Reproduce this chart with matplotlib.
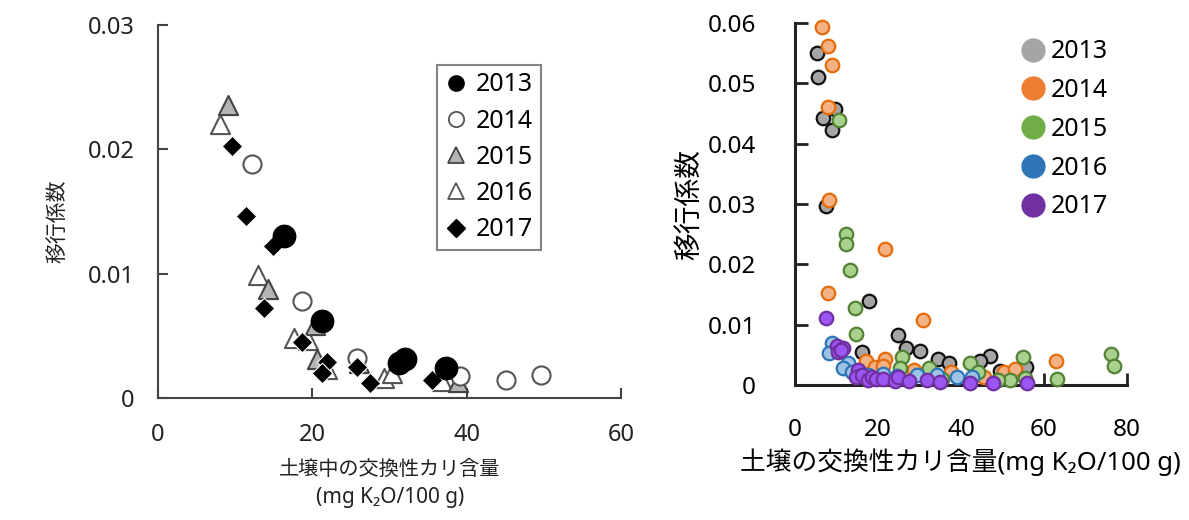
import numpy as np
import matplotlib
matplotlib.use('Agg')
import matplotlib.pyplot as plt
from matplotlib.lines import Line2D

plt.rcParams['font.family'] = ['Noto Sans', 'Noto Sans CJK JP', 'DejaVu Sans']

# ---- left panel data (交換性カリ vs 移行係数) ----
years = ['2013', '2014', '2015', '2016', '2017']

l13_x = [16.3, 21.3, 31.2, 32.0, 37.3]
l13_y = [0.0130, 0.0062, 0.0028, 0.0031, 0.0024]
l14_x = [12.2, 18.7, 25.8, 39.1, 45.1, 49.6]
l14_y = [0.0188, 0.0078, 0.0032, 0.0018, 0.00145, 0.00185]
l15_x = [9.1, 14.3, 20.3, 20.6, 26.0, 38.9]
l15_y = [0.0236, 0.0088, 0.0059, 0.0031, 0.0028, 0.0013]
l16_x = [8.05, 12.9, 17.6, 19.5, 21.9, 29.3, 30.3, 36.8]
l16_y = [0.0220, 0.0099, 0.0048, 0.0047, 0.0023, 0.0016, 0.0020, 0.0014]
l17_x = [9.6, 11.4, 14.9, 13.7, 18.7, 21.9, 21.3, 25.8, 27.5, 35.5]
l17_y = [0.0203, 0.0146, 0.0122, 0.0072, 0.0045, 0.0029, 0.0020, 0.0025, 0.0012, 0.00145]

left_xticks = [0, 20, 40, 60]
left_yticks = [0, 0.01, 0.02, 0.03]
left_ylabels = ['0', '0.01', '0.02', '0.03']

# ---- right panel data ----
r13_x = [5.2, 5.6, 9.6, 6.8, 8.8, 7.5, 17.9, 24.9, 16.2, 26.7, 30.0, 34.5, 37.0, 46.9, 44.6, 55.7, 49.4]
r13_y = [0.0550, 0.0511, 0.0458, 0.0442, 0.0423, 0.0297, 0.0139, 0.0083, 0.0055, 0.0061, 0.0057,
         0.0043, 0.0036, 0.0048, 0.0040, 0.0030, 0.0023]
r14_x = [6.4, 8.0, 8.8, 8.0, 8.3, 8.0, 21.7, 30.8, 62.9, 17.1, 21.7, 19.3, 21.3, 28.7, 37.5, 50.4,
         53.0, 45.6]
r14_y = [0.0594, 0.0562, 0.0531, 0.0460, 0.0307, 0.0152, 0.0225, 0.0108, 0.0039, 0.0040, 0.0043,
         0.0030, 0.0032, 0.0025, 0.0022, 0.0021, 0.0026, 0.0014]
r15_x = [10.7, 12.2, 12.2, 13.3, 14.5, 14.8, 25.8, 25.2, 32.2, 42.2, 55.0, 44.2, 51.8, 49.0, 63.2,
         76.1, 76.9, 55.4, 35.5]
r15_y = [0.0439, 0.0250, 0.0233, 0.0190, 0.0127, 0.0084, 0.0046, 0.0028, 0.0029, 0.0036, 0.0046,
         0.0022, 0.0008, 0.0008, 0.0010, 0.0051, 0.0032, 0.0011, 0.0010]
r16_x = [8.8, 8.3, 12.8, 11.5, 13.7, 21.3, 29.3, 34.3, 39.0, 42.7, 24.5, 17.5]
r16_y = [0.0070, 0.0053, 0.0036, 0.0029, 0.0022, 0.0018, 0.0016, 0.0016, 0.0014, 0.0014, 0.0015,
         0.0016]
r17_x = [7.5, 10.0, 11.5, 10.3, 11.0, 15.3, 14.6, 16.1, 17.7, 18.6, 19.6, 21.3, 24.1, 24.9, 27.5,
         31.7, 34.9, 42.2, 47.7, 56.0]
r17_y = [0.0111, 0.0064, 0.0062, 0.0054, 0.0058, 0.0025, 0.0013, 0.0016, 0.0009, 0.0014, 0.0010,
         0.0010, 0.0006, 0.0014, 0.0007, 0.0008, 0.0005, 0.0004, 0.0004, 0.0004]

right_xticks = [0, 20, 40, 60, 80]
right_yticks = [0, 0.01, 0.02, 0.03, 0.04, 0.05, 0.06]
right_ylabels = ['0', '0.01', '0.02', '0.03', '0.04', '0.05', '0.06']

fig = plt.figure(figsize=(11.89, 5.2), dpi=100)

# ================= left =================
ax1 = fig.add_axes([158/1189, 1-398/520, 463/1189, 373/520])
ax1.scatter(l16_x, l16_y, s=190, marker='^', facecolor='white', edgecolor='#555555', lw=1.5, zorder=3)
ax1.scatter(l15_x, l15_y, s=190, marker='^', facecolor='#b4b4b4', edgecolor='#444444', lw=1.5, zorder=3)
ax1.scatter(l14_x, l14_y, s=170, marker='o', facecolor='white', edgecolor='#555555', lw=1.5, zorder=3)
ax1.scatter(l17_x, l17_y, s=110, marker='D', facecolor='black', edgecolor='white', lw=0.8, zorder=4)
ax1.scatter(l13_x, l13_y, s=260, marker='o', facecolor='black', edgecolor='black', lw=1, zorder=4)

ax1.set_xlim(0, 60)
ax1.set_ylim(0, 0.03)
ax1.set_xticks(left_xticks)
ax1.set_xticklabels([str(v) for v in left_xticks])
ax1.set_yticks(left_yticks)
ax1.set_yticklabels(left_ylabels)
for s in ['top', 'right']:
    ax1.spines[s].set_visible(False)
for s in ['left', 'bottom']:
    ax1.spines[s].set_color('#444444')
    ax1.spines[s].set_linewidth(1.5)
ax1.tick_params(direction='in', length=7, width=1.5, color='#444444', labelsize=17,
                labelcolor='#222222')
ax1.tick_params(axis='y', pad=17)
ax1.tick_params(axis='x', pad=18)
fig.text(58/1189, 1-221/520, '移行係数', rotation=90, ha='center', va='center', fontsize=15,
         color='#222222')
fig.text(390/1189, 1-470/520, '土壌中の交換性カリ含量', ha='center', va='center', fontsize=14.5,
         color='#222222')
fig.text(390/1189, 1-498/520, '(mg K₂O/100 g)', ha='center', va='center', fontsize=15,
         color='#222222')

h = [Line2D([], [], ls='none', marker='o', ms=11, mfc='black', mec='black'),
     Line2D([], [], ls='none', marker='o', ms=11, mfc='white', mec='#555555', mew=1.3),
     Line2D([], [], ls='none', marker='^', ms=11, mfc='#b4b4b4', mec='#444444', mew=1.3),
     Line2D([], [], ls='none', marker='^', ms=11, mfc='white', mec='#555555', mew=1.3),
     Line2D([], [], ls='none', marker='D', ms=9, mfc='black', mec='black')]
leg1 = ax1.legend(h, years, loc='upper left', bbox_to_anchor=(0.603, 0.893), borderaxespad=0,
                  fontsize=18, frameon=True, fancybox=False, edgecolor='#666666',
                  handlelength=0.9, handletextpad=0.35, labelspacing=0.45, borderpad=0.3)
leg1.get_frame().set_linewidth(1.5)

# ================= right =================
ax2 = fig.add_axes([795/1189, 1-385/520, 332/1189, 362/520])
face = ['#a5a5a5', '#f4b183', '#a9d18e', '#9dc3e6', '#9b55f0']
edge = ['#111111', '#e46c0a', '#548235', '#2e75b6', '#7030a0']
legc = ['#a5a5a5', '#ed7d31', '#70ad47', '#2e75b6', '#7030a0']
rx = [r13_x, r14_x, r15_x, r16_x, r17_x]
ry = [r13_y, r14_y, r15_y, r16_y, r17_y]
for i in range(5):
    ax2.scatter(rx[i], ry[i], s=95, marker='o', facecolor=face[i], edgecolor=edge[i], lw=1.6,
                zorder=3 + i, clip_on=False)

ax2.set_xlim(0, 80)
ax2.set_ylim(0, 0.06)
ax2.set_xticks(right_xticks)
ax2.set_xticklabels([str(v) for v in right_xticks])
ax2.set_yticks(right_yticks)
ax2.set_yticklabels(right_ylabels)
for s in ['top', 'right']:
    ax2.spines[s].set_visible(False)
for s in ['left', 'bottom']:
    ax2.spines[s].set_color('#222222')
    ax2.spines[s].set_linewidth(2.2)
ax2.tick_params(direction='in', length=9, width=2, color='#222222', labelsize=17.5)
ax2.tick_params(axis='y', pad=28)
ax2.tick_params(axis='x', pad=24)
fig.text(690/1189, 1-205/520, '移行係数', rotation=90, ha='center', va='center', fontsize=20)
fig.text(960/1189, 1-462/520, '土壌の交換性カリ含量(mg K₂O/100 g)', ha='center', va='center',
         fontsize=18.5)

h2 = [Line2D([], [], ls='none', marker='o', ms=18, mfc=c, mec='white', mew=0.5) for c in legc]
ax2.legend(h2, years, loc='upper left', bbox_to_anchor=(0.68, 0.955), borderaxespad=0,
           fontsize=18, frameon=False, handlelength=1.0, handletextpad=0.2,
           labelspacing=0.55, borderpad=0)

fig.savefig('out.png', dpi=100)
